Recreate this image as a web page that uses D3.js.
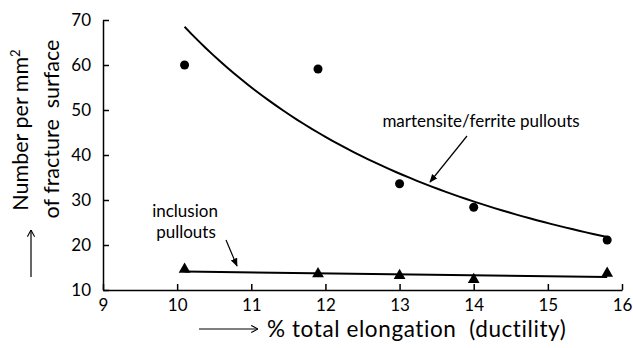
<!DOCTYPE html>
<html>
<head>
<meta charset="utf-8">
<script src="https://cdn.jsdelivr.net/npm/d3@7"></script>
<style>
  html, body { margin: 0; padding: 0; background: #fff; }
  svg { display: block; font-family: Lato, "Open Sans", sans-serif; }
  text { white-space: pre; }
</style>
</head>
<body>
<div id="chart"></div>
<script>
// --- data ---
const elongation = [10.1, 11.9, 13.0, 14.0, 15.8];
const martensitePullouts = [60.0, 59.1, 33.6, 28.4, 21.1];
const inclusionPullouts = [14.6, 13.6, 13.2, 12.3, 13.7];
const xTicks = [9, 10, 11, 12, 13, 14, 15, 16];
const yTicks = [10, 20, 30, 40, 50, 60, 70];

const width = 633, height = 348;
const margin = { left: 103, right: 11, top: 20, bottom: 58 };

const svg = d3.select("#chart").append("svg")
  .attr("width", width)
  .attr("height", height);

const x = d3.scaleLinear().domain([9, 16]).range([margin.left, width - margin.right]);
const y = d3.scaleLinear().domain([10, 70]).range([height - margin.bottom, margin.top]);

// --- arrow markers ---
const defs = svg.append("defs");
defs.append("marker")
  .attr("id", "solid")
  .attr("viewBox", "0 0 10 10")
  .attr("refX", 9).attr("refY", 5)
  .attr("markerWidth", 7).attr("markerHeight", 7)
  .attr("orient", "auto")
  .append("path").attr("d", "M0,1L10,5L0,9z").attr("fill", "#000");
defs.append("marker")
  .attr("id", "open")
  .attr("viewBox", "0 0 10 10")
  .attr("refX", 9.5).attr("refY", 5)
  .attr("markerWidth", 9).attr("markerHeight", 9)
  .attr("markerUnits", "userSpaceOnUse")
  .attr("orient", "auto")
  .append("path").attr("d", "M2,1L9.5,5L2,9").attr("fill", "none")
  .attr("stroke", "#000").attr("stroke-width", 1.2);

// --- axes ---
const xAxis = svg.append("g")
  .attr("transform", `translate(0,${y(10)})`)
  .call(d3.axisBottom(x).tickValues(xTicks).tickFormat(d3.format("d"))
    .tickSizeInner(-6).tickSizeOuter(0).tickPadding(9));
const yAxis = svg.append("g")
  .attr("transform", `translate(${x(9)},0)`)
  .call(d3.axisLeft(y).tickValues(yTicks).tickFormat(d3.format("d"))
    .tickSizeInner(-6).tickSizeOuter(0).tickPadding(12));

[xAxis, yAxis].forEach(g => {
  g.select(".domain").attr("stroke", "#000").attr("stroke-width", 1.5);
  g.selectAll(".tick line").attr("stroke", "#000").attr("stroke-width", 1.5);
  g.selectAll(".tick text").attr("font-size", 17).attr("fill", "#000")
    .attr("font-family", "Lato, sans-serif");
});

// --- trend lines (fitted from the points) ---
const n = elongation.length;
// power fit for martensite/ferrite
const lx = elongation.map(Math.log), ly = martensitePullouts.map(Math.log);
const mlx = d3.mean(lx), mly = d3.mean(ly);
const pb = d3.sum(lx, (v, i) => (v - mlx) * (ly[i] - mly)) / d3.sum(lx, v => (v - mlx) ** 2);
const pa = Math.exp(mly - pb * mlx);
const curveX = d3.range(0, 61).map(i => elongation[0] + (elongation[n - 1] - elongation[0]) * i / 60);

svg.append("path")
  .datum(curveX)
  .attr("fill", "none")
  .attr("stroke", "#000")
  .attr("stroke-width", 2)
  .attr("d", d3.line().x(d => x(d)).y(d => y(pa * Math.pow(d, pb))));

// linear fit for inclusions
const mx = d3.mean(elongation), my = d3.mean(inclusionPullouts);
const lb = d3.sum(elongation, (v, i) => (v - mx) * (inclusionPullouts[i] - my)) / d3.sum(elongation, v => (v - mx) ** 2);
const la = my - lb * mx;
svg.append("path")
  .datum([elongation[0], elongation[n - 1]])
  .attr("fill", "none")
  .attr("stroke", "#000")
  .attr("stroke-width", 2)
  .attr("d", d3.line().x(d => x(d)).y(d => y(la + lb * d)));

// --- markers ---
svg.append("g").selectAll("circle")
  .data(elongation)
  .join("circle")
  .attr("cx", d => x(d))
  .attr("cy", (d, i) => y(martensitePullouts[i]))
  .attr("r", 4.5)
  .attr("fill", "#000");

svg.append("g").selectAll("path")
  .data(elongation)
  .join("path")
  .attr("transform", (d, i) => `translate(${x(d)},${y(inclusionPullouts[i])})`)
  .attr("d", d3.symbol(d3.symbolTriangle, 60))
  .attr("fill", "#000");

// --- annotations ---
svg.append("text")
  .attr("x", 481).attr("y", 127)
  .attr("text-anchor", "middle")
  .attr("font-size", 17)
  .text("martensite/ferrite pullouts");
svg.append("line")
  .attr("x1", 467).attr("y1", 136).attr("x2", 430).attr("y2", 182)
  .attr("stroke", "#000").attr("stroke-width", 1.2)
  .attr("marker-end", "url(#solid)");

svg.append("text")
  .attr("x", 185).attr("y", 217)
  .attr("text-anchor", "middle")
  .attr("font-size", 17)
  .text("inclusion");
svg.append("text")
  .attr("x", 186).attr("y", 238)
  .attr("text-anchor", "middle")
  .attr("font-size", 17)
  .text("pullouts");
svg.append("line")
  .attr("x1", 226).attr("y1", 240).attr("x2", 237).attr("y2", 266)
  .attr("stroke", "#000").attr("stroke-width", 1.2)
  .attr("marker-end", "url(#solid)");

// --- axis titles ---
const yTitle = svg.append("text")
  .attr("transform", "translate(28,130) rotate(-90)")
  .attr("text-anchor", "middle")
  .attr("font-size", 21.5);
yTitle.append("tspan").text("Number per mm");
yTitle.append("tspan").attr("dy", -8).attr("font-size", 13).text("2");
svg.append("text")
  .attr("transform", "translate(59,129) rotate(-90)")
  .attr("text-anchor", "middle")
  .attr("font-size", 21.5)
  .text("of fracture  surface");
svg.append("line")
  .attr("x1", 31).attr("y1", 277).attr("x2", 31).attr("y2", 230)
  .attr("stroke", "#000").attr("stroke-width", 1.2)
  .attr("marker-end", "url(#open)");

svg.append("line")
  .attr("x1", 199).attr("y1", 329).attr("x2", 258).attr("y2", 329)
  .attr("stroke", "#000").attr("stroke-width", 1.2)
  .attr("marker-end", "url(#open)");
svg.append("text")
  .attr("x", 267).attr("y", 337)
  .attr("font-size", 22.5)
  .attr("letter-spacing", 0.6)
  .text("% total elongation  (ductility)");
</script>
</body>
</html>
